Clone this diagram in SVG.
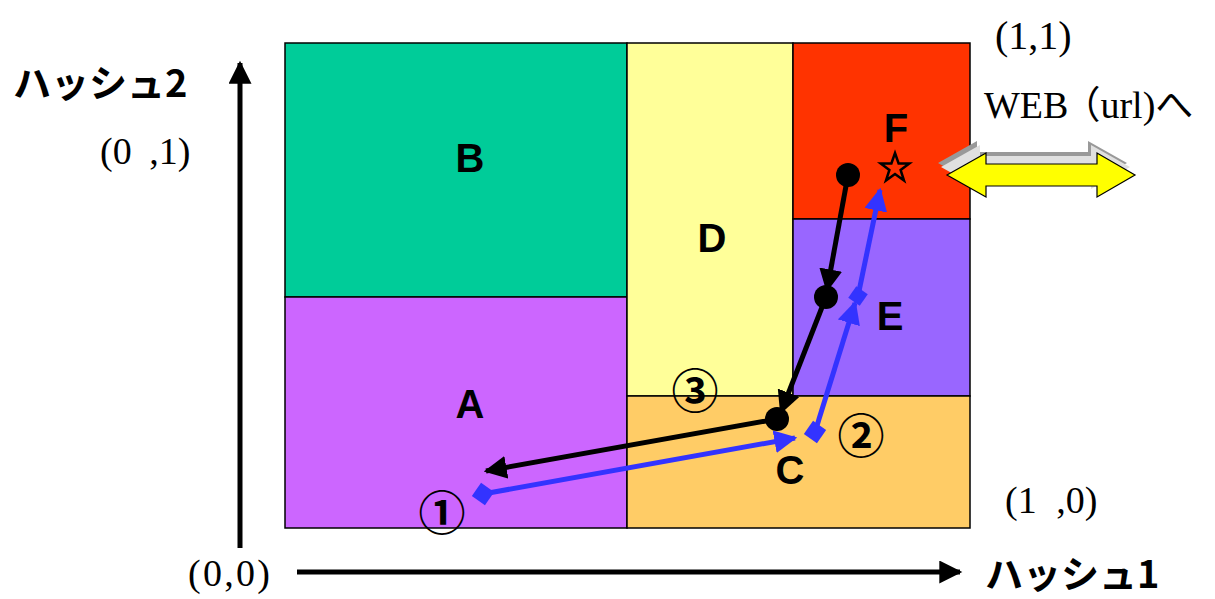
<svg xmlns="http://www.w3.org/2000/svg" width="1215" height="599" viewBox="0 0 1215 599">
<style>
.r{stroke:#000;stroke-width:1.5}
.lab{font-family:"Liberation Sans",Arial,sans-serif;font-weight:bold;font-size:40px;fill:#000;text-anchor:middle}
.co{font-family:"Liberation Serif","Times New Roman","Noto Sans CJK JP",serif;fill:#000}
.jp{font-family:"Noto Sans CJK JP","Liberation Sans",sans-serif;font-weight:bold;font-size:38px;fill:#000}
.num{font-family:"Noto Sans CJK JP","DejaVu Sans",sans-serif;font-weight:bold;font-size:47px;fill:#000;text-anchor:middle}
.bk{stroke:#000;stroke-width:5;fill:none}
.bl{stroke:#3333FF;stroke-width:5;fill:none}
</style>
<defs>
<marker id="ab" viewBox="0 0 10 10" refX="9" refY="5" markerWidth="4.6" markerHeight="4.6" orient="auto" markerUnits="strokeWidth"><path d="M0,0 L10,5 L0,10 z" fill="#000"/></marker>
<marker id="au" viewBox="0 0 10 10" refX="9" refY="5" markerWidth="4.6" markerHeight="4.6" orient="auto" markerUnits="strokeWidth"><path d="M0,0 L10,5 L0,10 z" fill="#3333FF"/></marker>
<marker id="ax" viewBox="0 0 10 10" refX="9" refY="5" markerWidth="5" markerHeight="4.6" orient="auto" markerUnits="strokeWidth"><path d="M0,0 L10,5 L0,10 z" fill="#000"/></marker>
</defs>
<rect width="1215" height="599" fill="#fff"/>
<g id="regionB"><rect class="r" x="285" y="43" width="342" height="254" fill="#00CC99"/><text class="lab" x="470" y="172">B</text></g>
<g id="regionA"><rect class="r" x="285" y="297" width="342" height="231" fill="#CC66FF"/><text class="lab" x="470" y="418">A</text></g>
<g id="regionD"><rect class="r" x="627" y="43" width="166" height="353" fill="#FFFF99"/><text class="lab" x="712" y="252">D</text></g>
<g id="regionF"><rect class="r" x="793" y="43" width="177" height="176" fill="#FF3300"/><text class="lab" x="896" y="142">F</text></g>
<g id="regionE"><rect class="r" x="793" y="219" width="177" height="177" fill="#9966FF"/><text class="lab" x="890" y="330">E</text></g>
<g id="regionC"><rect class="r" x="627" y="396" width="343" height="132" fill="#FFCC66"/><text class="lab" x="790" y="484">C</text></g>
<g id="axes">
<line x1="240" y1="548" x2="240" y2="63" stroke="#000" stroke-width="5" marker-end="url(#ax)"/>
<line x1="297" y1="572" x2="960" y2="572" stroke="#000" stroke-width="5" marker-end="url(#ax)"/>
<text class="jp" x="13" y="97">ハッシュ2</text>
<text class="jp" x="985" y="588">ハッシュ1</text>
</g>
<g id="coords">
<text class="co" x="100" y="164" font-size="38">(0 <tspan dx="8">,1)</tspan></text>
<text class="co" x="995" y="49" font-size="40">(1,1)</text>
<text class="co" x="1005" y="513" font-size="38">(1 <tspan dx="10">,0)</tspan></text>
<text class="co" x="188" y="586" font-size="38" textLength="82" lengthAdjust="spacing">(0,0)</text>
<text class="co" x="984" y="118" font-size="38">WEB<tspan dx="-6">（url)へ</tspan></text>
</g>
<g id="webArrow">
<polygon points="938,163 977,141 977,152 1088,152 1088,141 1127,163 1088,185 1088,174 977,174 977,185" fill="#999"/>
<polygon points="941,167 980,145 980,156 1091,156 1091,145 1130,167 1091,189 1091,178 980,178 980,189" fill="#E0E0E0"/>
<polygon points="947,175 986,153 986,164 1097,164 1097,153 1135,175 1097,197 1097,186 986,186 986,197" fill="#FFFF00" stroke="#000" stroke-width="1.2"/>
</g>
<g id="star"><polygon points="895,153 898.6,163.5 909.3,163.5 900.6,170 904,180.5 895,174 886,180.5 889.4,170 880.7,163.5 891.4,163.5" fill="none" stroke="#000" stroke-width="2.5"/></g>
<g id="connectors">
<line class="bk" x1="848" y1="175" x2="827" y2="290" marker-end="url(#ab)"/>
<line class="bk" x1="826" y1="297" x2="781" y2="412" marker-end="url(#ab)"/>
<line class="bk" x1="777" y1="419" x2="486" y2="471" marker-end="url(#ab)"/>
<line class="bl" x1="483" y1="494" x2="795" y2="438" marker-end="url(#au)"/>
<line class="bl" x1="815" y1="432" x2="855" y2="303" marker-end="url(#au)"/>
<line class="bl" x1="858" y1="296" x2="880" y2="190" marker-end="url(#au)"/>
<circle cx="848" cy="175" r="12" fill="#000"/>
<circle cx="826" cy="297" r="12" fill="#000"/>
<circle cx="777" cy="419" r="12" fill="#000"/>
<rect x="475" y="486" width="16" height="16" fill="#3333FF" transform="rotate(35 483 494)"/>
<rect x="807" y="424" width="16" height="16" fill="#3333FF" transform="rotate(35 815 432)"/>
<rect x="851" y="289" width="14" height="14" fill="#3333FF" transform="rotate(35 858 296)"/>
</g>
<g id="steps">
<text class="num" x="442" y="530">①</text>
<text class="num" x="861" y="453">②</text>
<text class="num" x="695" y="408">③</text>
</g>
</svg>
